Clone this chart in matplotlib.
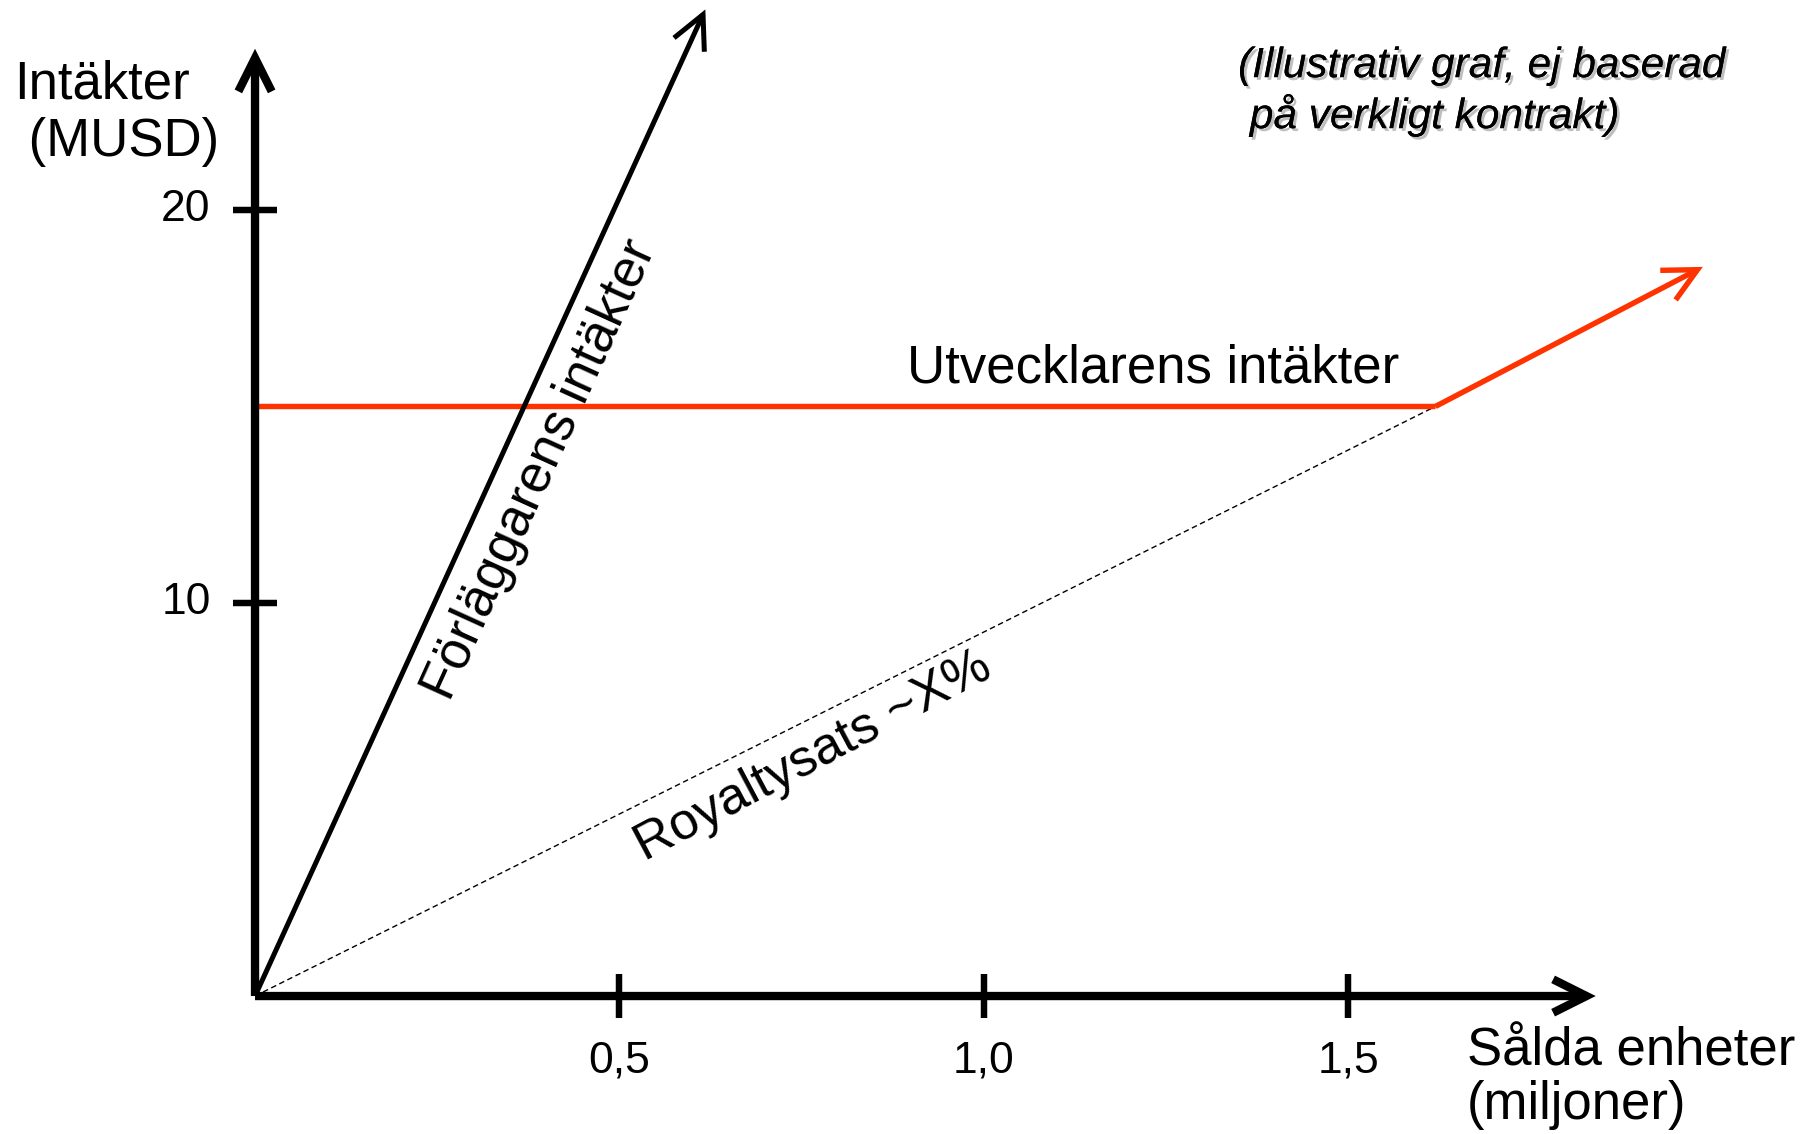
import matplotlib
matplotlib.use("Agg")
import matplotlib.pyplot as plt
import matplotlib.patheffects as pe

plt.rcParams["font.family"] = ["Liberation Sans", "DejaVu Sans"]

# axis extents (data units)
x_axis_end = 1.84   # miljoner sålda enheter
y_axis_end = 24.1   # MUSD

x_ticks = [0.5, 1.0, 1.5]
x_tick_labels = ["0,5", "1,0", "1,5"]
y_ticks = [10, 20]
y_tick_labels = ["10", "20"]

# förläggarens intäkter (black line)
publisher_x = [0.0, 0.618]
publisher_y = [0.0, 25.1]

# utvecklarens intäkter (red line): fixed sum, then royalty above break-even
developer_x = [0.0, 1.62, 1.987]
developer_y = [15.0, 15.0, 18.55]

# royalty line (dashed) from origin to break-even
royalty_x = [0.0, 1.62]
royalty_y = [0.0, 15.0]

RED = "#ff3300"

fig = plt.figure(figsize=(18.18, 11.34), dpi=100)
ax = fig.add_axes([0, 0, 1, 1])
ax.set_xlim(-0.350, 2.145)
ax.set_ylim(-3.51, 25.34)
ax.axis("off")


def arrow(x0, y0, x1, y1, color="black", lw=5.5):
    ax.annotate(
        "",
        xy=(x1, y1),
        xytext=(x0, y0),
        arrowprops=dict(
            arrowstyle="->,head_length=1.2,head_width=0.6",
            mutation_scale=20,
            lw=lw,
            color=color,
            shrinkA=0,
            shrinkB=0,
            capstyle="butt",
            joinstyle="miter",
        ),
        zorder=5,
    )


# dashed royalty line
ax.plot(royalty_x, royalty_y, color="black", lw=1.0, dashes=(4, 2.5), zorder=2)

# developer revenue
ax.plot(developer_x[:2], developer_y[:2], color=RED, lw=3.9, solid_capstyle="butt", zorder=3)
arrow(developer_x[1], developer_y[1], developer_x[2], developer_y[2], color=RED, lw=3.9)

# publisher revenue
arrow(publisher_x[0], publisher_y[0], publisher_x[1], publisher_y[1], lw=3.6)

# axes
arrow(0, 0, x_axis_end, 0, lw=6)
arrow(0, 0, 0, y_axis_end, lw=6)

# ticks
for xt, lab in zip(x_ticks, x_tick_labels):
    ax.plot([xt, xt], [0, 0], marker="|", markersize=32, mew=4.5, color="black", zorder=6)
    ax.annotate(lab, xy=(xt, 0), xytext=(0, -47), textcoords="offset points",
                ha="center", va="center", fontsize=32)
for yt, lab in zip(y_ticks, y_tick_labels):
    ax.plot([0, 0], [yt, yt], marker="_", markersize=32, mew=4.5, color="black", zorder=6)
    ax.annotate(lab, xy=(0, yt), xytext=(-32, 0), textcoords="offset points",
                ha="right", va="center", fontsize=32)

# axis labels (va=baseline refers to the last line)
ax.text(0.0077, 0.8624, "Intäkter\n (MUSD)", transform=ax.transAxes,
        ha="left", va="baseline", fontsize=38, linespacing=1.2)
ax.text(0.807, 0.0132, "Sålda enheter\n(miljoner)", transform=ax.transAxes,
        ha="left", va="baseline", fontsize=38, linespacing=1.1)

# line labels
ax.text(0.391, 13.38, "Förläggarens intäkter", rotation=65.6, rotation_mode="anchor",
        ha="center", va="center", fontsize=38)
ax.text(0.766, 6.1, "Royaltysats ~X%", rotation=28, rotation_mode="anchor",
        ha="center", va="center", fontsize=37.5)
ax.text(0.895, 15.6, "Utvecklarens intäkter", ha="left", va="baseline", fontsize=38)

# note
ax.text(0.681, 0.887, "(Illustrativ graf, ej baserad\n på verkligt kontrakt)",
        transform=ax.transAxes, ha="left", va="baseline", fontsize=30.5,
        style="italic", linespacing=1.2,
        path_effects=[pe.withSimplePatchShadow(offset=(2, -2), shadow_rgbFace="gray", alpha=0.5),
                      pe.Normal()])

fig.savefig("out.png", dpi=100)
